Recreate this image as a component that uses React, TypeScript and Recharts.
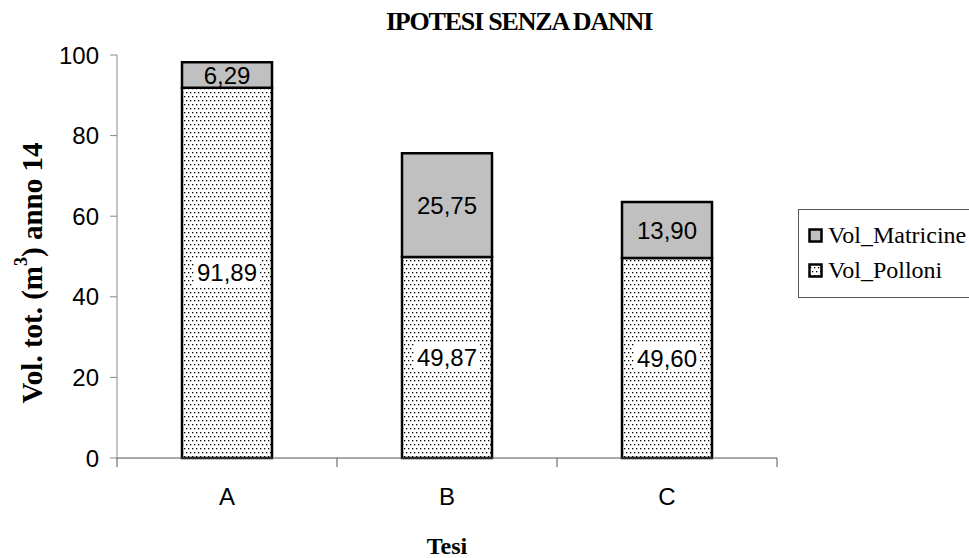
import { BarChart, Bar, XAxis, YAxis, Legend, LabelList } from "recharts";

const tesi = ["A", "B", "C"];
const volPolloni = [91.89, 49.87, 49.6];
const volMatricine = [6.29, 25.75, 13.9];
const yTicks = [0, 20, 40, 60, 80, 100];

const data = tesi.map((t, i) => ({
  name: t,
  Vol_Polloni: volPolloni[i],
  Vol_Matricine: volMatricine[i],
}));

const fmt = (v: number) => v.toFixed(2).replace(".", ",");

const SANS = "'Liberation Sans', Arial, sans-serif";
const SERIF = "'Liberation Serif', 'Times New Roman', serif";

const CHART_W = 969;
const MARGIN = { top: 55, right: 192, bottom: 0, left: 40 };
const Y_W = 77;
const BAND_HALF = (CHART_W - MARGIN.left - MARGIN.right - Y_W) / tesi.length / 2;

// etichetta con sfondo bianco (come nel grafico originale)
const PolloniLabel = (props: any) => {
  const { x, y, width, height, value } = props;
  const cx = x + width / 2;
  const cy = y + height / 2;
  return (
    <g>
      <rect x={cx - 33} y={cy - 14} width={66} height={28} fill="#fff" />
      <text x={cx} y={cy} textAnchor="middle" dominantBaseline="central" fontFamily={SANS} fontSize={24} fill="#000">
        {fmt(value)}
      </text>
    </g>
  );
};

const MatricineLabel = (props: any) => {
  const { x, y, width, height, value } = props;
  return (
    <text x={x + width / 2} y={y + height / 2} textAnchor="middle" dominantBaseline="central" fontFamily={SANS} fontSize={24} fill="#000">
      {fmt(value)}
    </text>
  );
};

// tick di categoria con le tacche tra le categorie
const CatTick = (props: any) => {
  const { x, y, payload, index } = props;
  const axisY = y - 30;
  return (
    <g>
      <line x1={x - BAND_HALF} x2={x - BAND_HALF} y1={axisY} y2={axisY + 9} stroke="#555" />
      {index === tesi.length - 1 && (
        <line x1={x + BAND_HALF} x2={x + BAND_HALF} y1={axisY} y2={axisY + 9} stroke="#555" />
      )}
      <text x={x} y={y} textAnchor="middle" dy="0.71em" fontFamily={SANS} fontSize={24} fill="#000">
        {payload.value}
      </text>
    </g>
  );
};

const YLabel = () => {
  const cx = 32;
  const cy = 273;
  return (
    <text
      x={cx}
      y={cy}
      transform={`rotate(-90, ${cx}, ${cy})`}
      textAnchor="middle"
      dominantBaseline="central"
      fontFamily={SERIF}
      fontWeight="bold"
      fontSize={29}
      fill="#000"
    >
      Vol. tot. (m<tspan dy={-11} fontSize={18}>3</tspan><tspan dy={11}>) anno 14</tspan>
    </text>
  );
};

const LegendBox = () => (
  <div
    style={{
      border: "1px solid #555",
      width: 175,
      height: 89,
      boxSizing: "border-box",
      fontFamily: SERIF,
      fontSize: 24,
      color: "#000",
      padding: "8px 0 0 9px",
      background: "#fff",
    }}
  >
    <div style={{ display: "flex", alignItems: "center", height: 35, whiteSpace: "nowrap" }}>
      <svg width={15} height={15} style={{ marginRight: 5 }}>
        <rect x={1.5} y={1.5} width={12} height={12} fill="#c0c0c0" stroke="#000" strokeWidth={2.5} />
      </svg>
      Vol_Matricine
    </div>
    <div style={{ display: "flex", alignItems: "center", height: 35, whiteSpace: "nowrap" }}>
      <svg width={15} height={15} style={{ marginRight: 5 }}>
        <rect x={1.5} y={1.5} width={12} height={12} fill="url(#dots)" stroke="#000" strokeWidth={2.5} />
      </svg>
      Vol_Polloni
    </div>
  </div>
);

export default function App() {
  return (
    <div style={{ position: "absolute", left: 0, top: 0, width: 969, height: 558, background: "#fff", overflow: "hidden" }}>
      <div
        style={{
          position: "absolute",
          left: 0,
          width: 1038,
          top: 7,
          textAlign: "center",
          fontFamily: SERIF,
          fontWeight: "bold",
          fontSize: 26,
          letterSpacing: -1.2,
        }}
      >
        IPOTESI SENZA DANNI
      </div>
      <svg width={0} height={0} style={{ position: "absolute" }}>
        <defs>
          <pattern id="dots" width={4} height={8} patternUnits="userSpaceOnUse">
            <rect width={4} height={8} fill="#fff" />
            <rect x={0} y={0} width={1.3} height={1.3} fill="#000" />
            <rect x={2} y={4} width={1.3} height={1.3} fill="#000" />
          </pattern>
        </defs>
      </svg>
      <BarChart width={CHART_W} height={558} data={data} margin={MARGIN} barSize={90}>
        <XAxis
          dataKey="name"
          height={100}
          tickLine={false}
          tickSize={6}
          axisLine={{ stroke: "#555" }}
          tick={<CatTick />}
          tickMargin={24}
          label={{ value: "Tesi", position: "insideBottom", offset: 4, fontFamily: SERIF, fontWeight: "bold", fontSize: 24, fill: "#000" }}
        />
        <YAxis
          width={Y_W}
          domain={[0, 100]}
          ticks={yTicks}
          interval={0}
          axisLine={{ stroke: "#888" }}
          tickLine={{ stroke: "#888" }}
          tickSize={7}
          tickMargin={11}
          tick={{ fontFamily: SANS, fontSize: 24, fill: "#000" }}
          label={<YLabel />}
        />
        <Legend
          layout="horizontal"
          verticalAlign="middle"
          align="center"
          content={<LegendBox />}
          wrapperStyle={{ position: "absolute", left: 798, top: 209, width: 175, height: 89 }}
        />
        <Bar dataKey="Vol_Polloni" stackId="a" fill="url(#dots)" stroke="#000" strokeWidth={2.5} isAnimationActive={false}>
          <LabelList dataKey="Vol_Polloni" content={<PolloniLabel />} />
        </Bar>
        <Bar dataKey="Vol_Matricine" stackId="a" fill="#c0c0c0" stroke="#000" strokeWidth={2.5} isAnimationActive={false}>
          <LabelList dataKey="Vol_Matricine" content={<MatricineLabel />} />
        </Bar>
      </BarChart>
    </div>
  );
}
